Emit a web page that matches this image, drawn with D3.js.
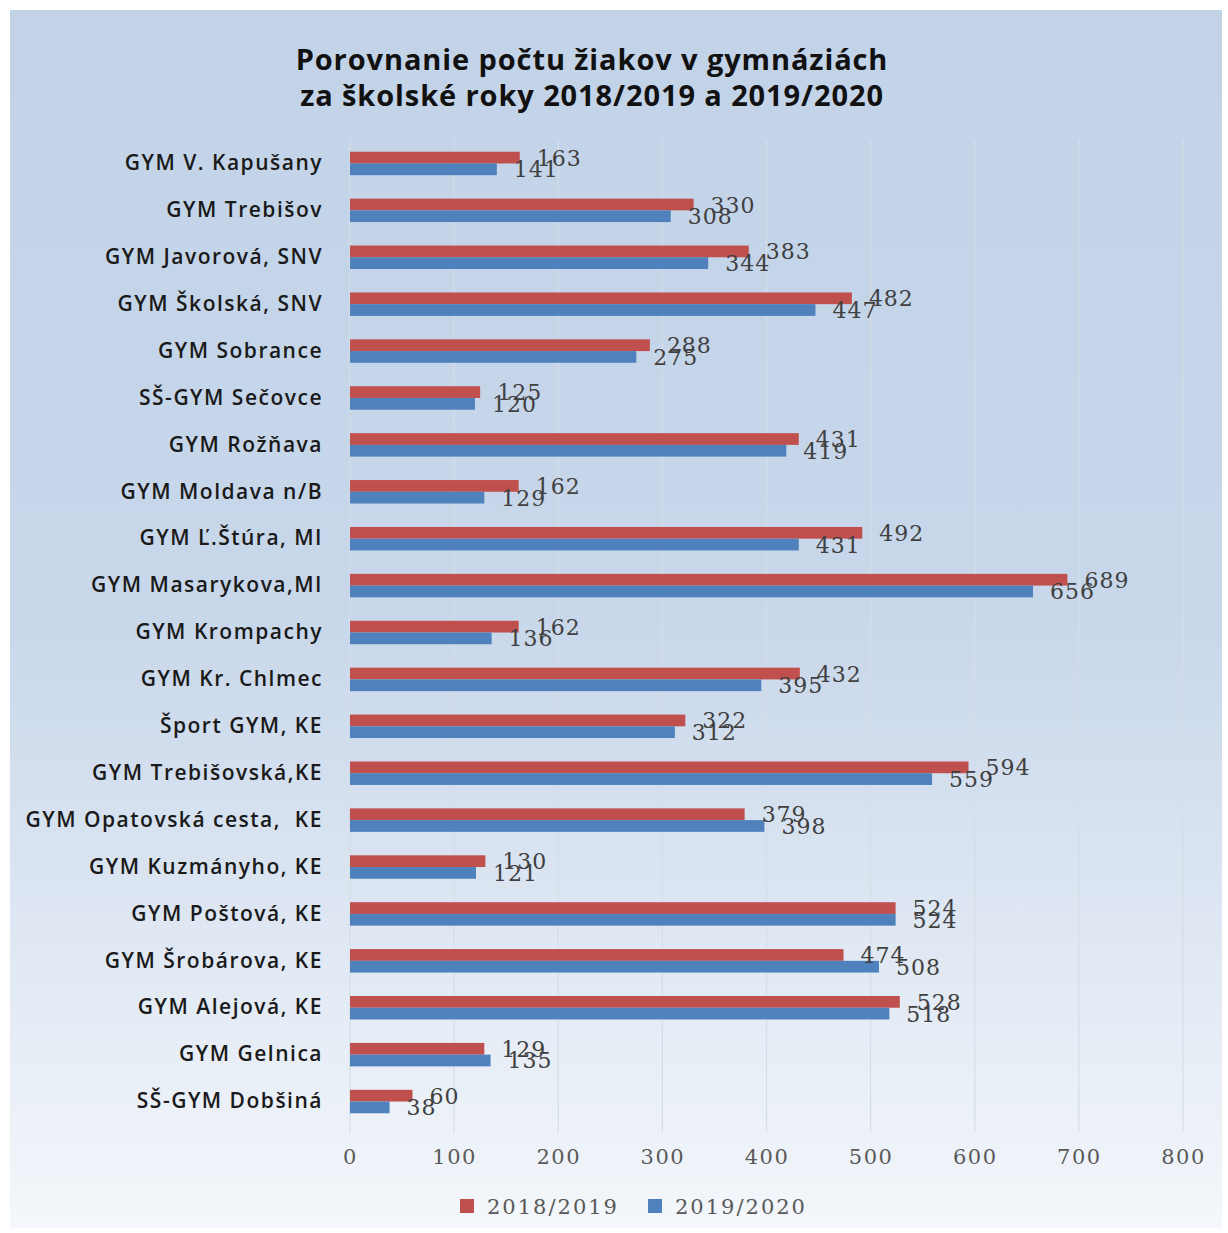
<!DOCTYPE html>
<html>
<head>
<meta charset="utf-8">
<script src="https://cdn.jsdelivr.net/npm/d3@7"></script>
<style>
  body { margin: 0; background: #ffffff; }
  svg { display: block; }
</style>
</head>
<body>
<div id="graf"></div>
<script>
// Udaje - pocet ziakov
const skoly = ["GYM V. Kapušany", "GYM Trebišov", "GYM Javorová, SNV", "GYM Školská, SNV",
  "GYM Sobrance", "SŠ-GYM Sečovce", "GYM Rožňava", "GYM Moldava n/B", "GYM Ľ.Štúra, MI",
  "GYM Masarykova,MI", "GYM Krompachy", "GYM Kr. Chlmec", "Šport GYM, KE",
  "GYM Trebišovská,KE", "GYM Opatovská cesta,  KE", "GYM Kuzmányho, KE", "GYM Poštová, KE",
  "GYM Šrobárova, KE", "GYM Alejová, KE", "GYM Gelnica", "SŠ-GYM Dobšiná"]
const rok1819 = [163, 330, 383, 482, 288, 125, 431, 162, 492, 689, 162, 432, 322, 594, 379, 130, 524, 474, 528, 129, 60]
const rok1920 = [141, 308, 344, 447, 275, 120, 419, 129, 431, 656, 136, 395, 312, 559, 398, 121, 524, 508, 518, 135, 38]
const serie = ["2018/2019", "2019/2020"]
const farby = ["#c0504d", "#4f81bd"]
const ticks = [0, 100, 200, 300, 400, 500, 600, 700, 800]
const titulok = ["Porovnanie počtu žiakov v gymnáziách", "za školské roky 2018/2019 a 2019/2020"]

const anchoTotal = 1228
const altoTotal = 1233

const svg = d3.select("#graf")
  .append("svg")
  .attr("width", anchoTotal)
  .attr("height", altoTotal)

// fondo s prechodom
const grad = svg.append("defs").append("linearGradient")
  .attr("id", "fondo")
  .attr("x1", 0).attr("y1", 0).attr("x2", 0).attr("y2", 1)
grad.append("stop").attr("offset", "0%").attr("stop-color", "#c2d3e8")
grad.append("stop").attr("offset", "50%").attr("stop-color", "#c8d7ea")
grad.append("stop").attr("offset", "100%").attr("stop-color", "#f4f7fb")

svg.append("rect")
  .attr("x", 10).attr("y", 10)
  .attr("width", 1212).attr("height", 1218)
  .attr("fill", "url(#fondo)")

// titulok
svg.append("g").selectAll("text")
  .data(titulok)
  .join("text")
  .attr("x", 592)
  .attr("y", (d, i) => 70 + i * 36)
  .attr("text-anchor", "middle")
  .attr("font-family", "'Open Sans', sans-serif")
  .attr("font-weight", 700)
  .attr("font-size", "29px")
  .attr("letter-spacing", "0.9px")
  .attr("fill", "#111")
  .text(d => d)

// skaly
const x = d3.scaleLinear().domain([0, 800]).range([350, 1183])
const y = d3.scaleBand().domain(skoly).range([140, 1125]).paddingInner(0.5).paddingOuter(0.25)
const ySub = d3.scaleBand().domain(serie).range([0, y.bandwidth()])

// mriezka
svg.append("g").selectAll("line")
  .data(ticks)
  .join("line")
  .attr("x1", d => x(d)).attr("x2", d => x(d))
  .attr("y1", 140).attr("y2", 1132)
  .attr("stroke", "#d5dde8")
  .attr("stroke-width", 1.2)

// os x
const osX = svg.append("g")
  .attr("transform", "translate(0,1137)")
  .call(d3.axisBottom(x).tickValues(ticks).tickSize(0).tickPadding(12))
osX.select(".domain").remove()
osX.selectAll("text")
  .attr("font-family", "'DejaVu Serif', serif")
  .attr("font-size", "21px")
  .attr("letter-spacing", "1.5px")
  .attr("fill", "#595959")

// os y
const osY = svg.append("g")
  .attr("transform", "translate(350,0)")
  .call(d3.axisLeft(y).tickSize(0).tickPadding(27))
osY.select(".domain").remove()
osY.selectAll("text")
  .attr("font-family", "'Open Sans', sans-serif")
  .attr("font-weight", 600)
  .attr("font-size", "21px")
  .attr("letter-spacing", "1.5px")
  .attr("fill", "#1a1a1a")
  .style("white-space", "pre")

// data do tabulky
const tabla = skoly.map((s, i) => ({ skola: s, hodnoty: [rok1819[i], rok1920[i]] }))

const grupos = svg.append("g").selectAll("g")
  .data(tabla)
  .join("g")
  .attr("transform", d => "translate(0," + y(d.skola) + ")")

grupos.selectAll("rect")
  .data(d => d.hodnoty.map((v, j) => ({ serie: serie[j], v: v, c: farby[j] })))
  .join("rect")
  .attr("x", x(0))
  .attr("y", d => ySub(d.serie))
  .attr("width", d => x(d.v) - x(0))
  .attr("height", ySub.bandwidth())
  .attr("fill", d => d.c)

grupos.selectAll("text")
  .data(d => d.hodnoty.map((v, j) => ({ serie: serie[j], v: v })))
  .join("text")
  .attr("x", d => x(d.v) + 17)
  .attr("y", d => ySub(d.serie) + ySub.bandwidth() / 2 + 8)
  .attr("font-family", "'DejaVu Serif', serif")
  .attr("font-size", "22px")
  .attr("letter-spacing", "1px")
  .attr("fill", "#404040")
  .text(d => d.v)

// legenda
const leg = svg.append("g")
  .attr("transform", "translate(460,1206)")
const itemX = [0, 188]
serie.forEach((s, i) => {
  leg.append("rect")
    .attr("x", itemX[i]).attr("y", -7)
    .attr("width", 14).attr("height", 14)
    .attr("fill", farby[i])
  leg.append("text")
    .attr("x", itemX[i] + 27).attr("y", 8)
    .attr("font-family", "'DejaVu Serif', serif")
    .attr("font-size", "21px")
    .attr("letter-spacing", "2px")
    .attr("fill", "#595959")
    .text(s)
})
</script>
</body>
</html>
